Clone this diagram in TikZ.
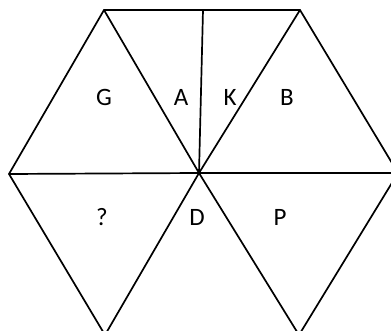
\documentclass[tikz,border=0pt]{standalone}
\usepackage{fontspec}
\setmainfont{Carlito}
\begin{document}
\begin{tikzpicture}[x=1pt,y=-1pt,
  edge/.style={line width=1.7pt, line join=miter},
  lbl/.style={font=\fontsize{25}{29}\selectfont, inner sep=0pt}]
\useasboundingbox (0,0) rectangle (391,331);
\clip (0,0) rectangle (391,331);
\coordinate (C) at (199,173);
\coordinate (TL) at (104,10);
\coordinate (TM) at (203,10);
\coordinate (TR) at (300,10);
\coordinate (L) at (9,174);
\coordinate (R) at (398,173);
\coordinate (BL) at (105,335);
\coordinate (BR) at (299,335);
\draw[edge] (BL) -- (L) -- (TL) -- (TR) -- (R) -- (BR);
\draw[edge] (C) -- (L);
\draw[edge] (C) -- (R);
\draw[edge] (C) -- (TL);
\draw[edge] (C) -- (TR);
\draw[edge] (C) -- (BL);
\draw[edge] (C) -- (BR);
\draw[edge] (C) -- (TM);
\node[lbl] (g) at (104,97) {G};
\node[lbl] (a) at (181,97) {A};
\node[lbl] (k) at (230,97) {K};
\node[lbl] (b) at (287,97) {B};
\node[lbl] (q) at (102,217) {?};
\node[lbl] (d) at (197,217) {D};
\node[lbl] (p) at (280,217) {P};
\end{tikzpicture}
\end{document}
